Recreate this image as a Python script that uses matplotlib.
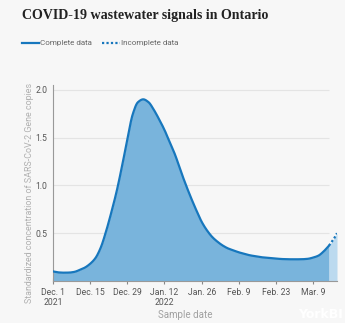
import matplotlib
matplotlib.use("Agg")
import matplotlib.pyplot as plt
import numpy as np

# Data: day offset from Dec 1, 2021 and standardized concentration
days = [0, 2, 4, 6, 8, 10, 12, 14, 16, 18, 20, 22, 24, 26, 28, 30, 32, 34, 36, 38,
        40, 42, 44, 46, 48, 50, 52, 54, 56, 58, 60, 62, 64, 66, 68, 70, 72, 74, 76, 78,
        80, 82, 84, 86, 88, 90, 92, 94, 96, 98, 100, 102, 104]
values = [0.10, 0.09, 0.087, 0.088, 0.095, 0.115, 0.14, 0.18, 0.24, 0.35, 0.52, 0.72,
          0.94, 1.20, 1.48, 1.74, 1.87, 1.90, 1.87, 1.79, 1.69, 1.58, 1.45, 1.32, 1.16,
          1.01, 0.87, 0.74, 0.62, 0.53, 0.46, 0.41, 0.37, 0.34, 0.32, 0.30, 0.285, 0.27,
          0.26, 0.25, 0.245, 0.24, 0.235, 0.23, 0.228, 0.227, 0.227, 0.228, 0.232, 0.245,
          0.265, 0.31, 0.37]
inc_days = [104, 105, 106, 107]
inc_values = [0.37, 0.41, 0.45, 0.50]

tick_days = [0, 14, 28, 42, 56, 70, 84, 98]
tick_labels = ["Dec. 1\n2021", "Dec. 15", "Dec. 29", "Jan. 12\n2022", "Jan. 26",
               "Feb. 9", "Feb. 23", "Mar. 9"]
ytick_vals = [0.5, 1.0, 1.5, 2.0]
ytick_labels = ["0.5", "1.0", "1.5", "2.0"]

bg = "#f7f7f7"
line_c = "#1777bd"
fill_c = "#79b4dc"
fill_inc = "#bcdaef"


def monotone(x, y, n=12):
    """Monotone cubic (Fritsch-Carlson) rendering curve through the points."""
    x = np.asarray(x, float)
    y = np.asarray(y, float)
    h = np.diff(x)
    d = np.diff(y) / h
    m = np.zeros_like(y)
    m[0], m[-1] = d[0], d[-1]
    for i in range(1, len(y) - 1):
        if d[i - 1] * d[i] <= 0:
            m[i] = 0
        else:
            w1 = 2 * h[i] + h[i - 1]
            w2 = h[i] + 2 * h[i - 1]
            m[i] = (w1 + w2) / (w1 / d[i - 1] + w2 / d[i])
    xs, ys = [], []
    for i in range(len(h)):
        t = np.linspace(0, 1, n, endpoint=(i == len(h) - 1))
        h00 = 2 * t**3 - 3 * t**2 + 1
        h10 = t**3 - 2 * t**2 + t
        h01 = -2 * t**3 + 3 * t**2
        h11 = t**3 - t**2
        xs.append(x[i] + t * h[i])
        ys.append(h00 * y[i] + h10 * h[i] * m[i] + h01 * y[i + 1] + h11 * h[i] * m[i + 1])
    return np.concatenate(xs), np.concatenate(ys)


W, H = 345, 323
fig = plt.figure(figsize=(W / 100, H / 100), dpi=100, facecolor=bg)
ax = fig.add_axes([53 / W, (H - 281) / H, (337 - 53) / W, (281 - 85) / H], facecolor=bg)

xs, ys = monotone(days, values)
xi, yi = monotone(inc_days, inc_values)
ax.hlines(ytick_vals, 0, 104, color="#e4e4e4", lw=0.8, zorder=0)
ax.fill_between(xs, ys, 0, color=fill_c, lw=0, zorder=2)
ax.fill_between(xi, yi, 0, color=fill_inc, lw=0, zorder=2)
ax.plot(xs, ys, color=line_c, lw=1.6, zorder=3, solid_capstyle="round")
ax.plot(xi, yi, color=line_c, lw=1.6, ls=(0, (1, 1)), zorder=3)

ax.set_xlim(0, 107)
ax.set_ylim(0, 2.05)
ax.set_yticks(ytick_vals)
ax.set_yticklabels(ytick_labels)
ax.set_xticks(tick_days)
ax.set_xticklabels(tick_labels)
for lab in ax.get_xticklabels() + ax.get_yticklabels():
    lab.set_family("Roboto")
    lab.set_fontsize(6.2)
    lab.set_color("#555555")
ax.tick_params(axis="y", length=0, pad=4)
ax.tick_params(axis="x", length=4, direction="inout", color="#888888", width=0.8, pad=3)
for s in ["top", "right"]:
    ax.spines[s].set_visible(False)
ax.spines["left"].set_color("#999999")
ax.spines["bottom"].set_color("#999999")
ax.spines["left"].set_linewidth(0.8)
ax.spines["bottom"].set_linewidth(0.8)

fig.text(30 / W, 1 - 193 / H, "Standardized concentration of SARS-CoV-2 Gene copies",
         rotation=90, ha="center", va="center", fontsize=6.4, color="#b0b0b0",
         family="Roboto")
fig.text(185 / W, 1 - 315 / H, "Sample date", ha="center", va="center",
         fontsize=7, color="#a0a0a0", family="Roboto")

fig.text(22 / W, 1 - 16 / H, "COVID-19 wastewater signals in Ontario", ha="left",
         va="center", fontsize=10.1, fontweight="bold", family="Liberation Serif",
         color="#222222")

# legend
fig.add_artist(plt.Line2D([22 / W, 39 / W], [1 - 43 / H, 1 - 43 / H], color=line_c, lw=1.6))
fig.text(40 / W, 1 - 43 / H, "Complete data", ha="left", va="center", fontsize=5.8,
         color="#666666", family="Roboto")
fig.add_artist(plt.Line2D([102 / W, 120 / W], [1 - 43 / H, 1 - 43 / H], color=line_c,
                          lw=1.6, ls=(0, (1, 1))))
fig.text(121 / W, 1 - 43 / H, "Incomplete data", ha="left", va="center", fontsize=5.8,
         color="#666666", family="Roboto")

fig.text(298 / W, 1 - 315 / H, "YorkBI", ha="left", va="center", fontsize=9,
         fontweight="bold", color="white", family="DejaVu Sans")

fig.savefig("out.png", dpi=100, facecolor=bg)
